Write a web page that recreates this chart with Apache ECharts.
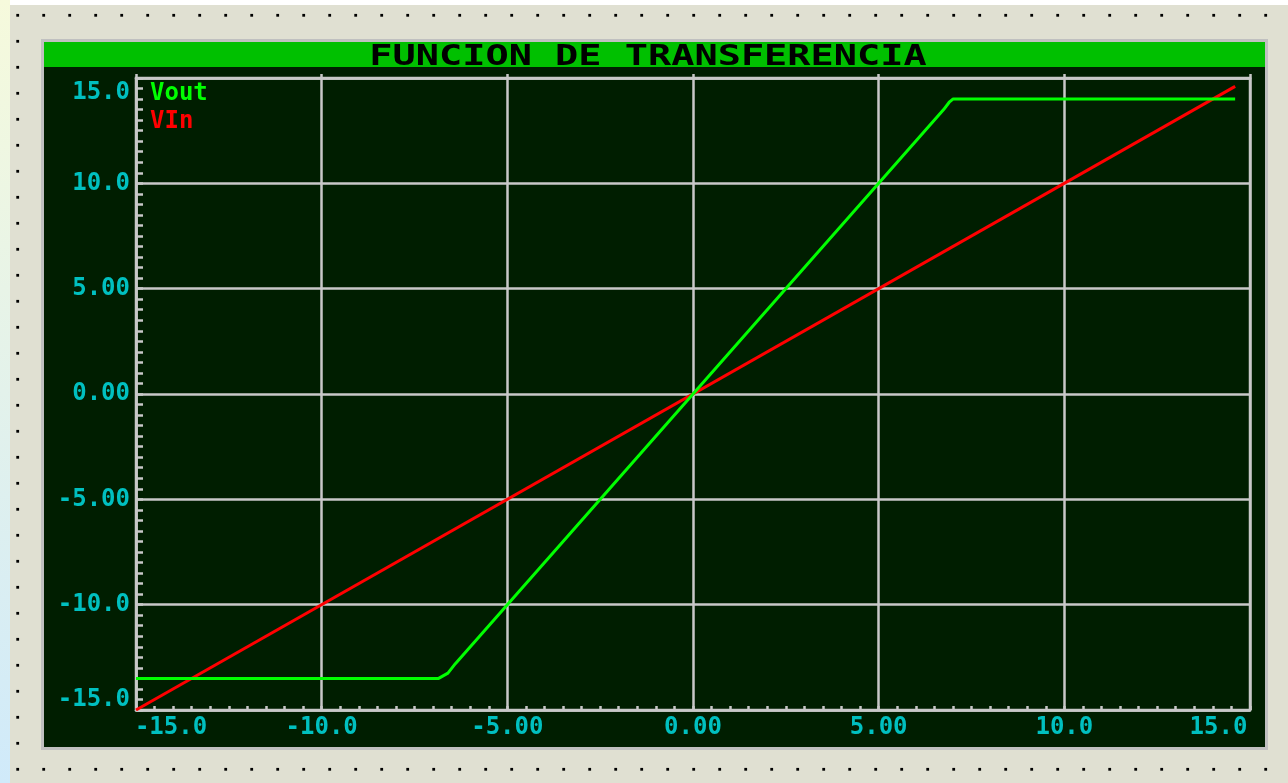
<!DOCTYPE html>
<html>
<head>
<meta charset="utf-8">
<script src="https://cdn.jsdelivr.net/npm/echarts@6/dist/echarts.min.js"></script>
<style>html,body{margin:0;padding:0;background:#E0E0D2;}#c{width:1288px;height:783px;}</style>
</head>
<body>
<div id="c"></div>
<script>
// ---- data ----
var TITLE = 'FUNCION DE TRANSFERENCIA';
var SERIES_NAMES = ['Vout', 'VIn'];
var VIN_X = [-15, 14.6];
var VIN_Y = [-15, 14.6];
var VOUT_X = [-15, -6.85, -6.6, -6.4, 0, 6.75, 6.9, 7.0, 14.6];
var VOUT_Y = [-13.5, -13.5, -13.25, -12.8, 0, 13.5, 13.85, 14.0, 14.0];
var TICK_VALUES = [-15, -10, -5, 0, 5, 10, 15];
var X_LABELS = ['-15.0', '-10.0', '-5.00', '0.00', '5.00', '10.0', '15.0'];
var Y_LABELS = ['-15.0', '-10.0', '-5.00', '0.00', '5.00', '10.0', '15.0'];

// ---- styles ----
var GRAY = '#C8C8C8';
var CYAN = '#00C0C0';
var FONT = 'DejaVu Sans Mono';
var PANEL = {x: 41, y: 39, w: 1227, h: 711};

function pairs(xs, ys) { return xs.map(function (x, i) { return [x, ys[i]]; }); }
function lab(list, v) { var i = TICK_VALUES.indexOf(v); return i < 0 ? '' : list[i]; }

var base = {color: CYAN, fontFamily: FONT, fontWeight: 'bold', fontSize: 24};
function rs(extra) { return Object.assign({}, base, extra || {}); }

var graphics = [];
graphics.push({type: 'rect', z: -20, silent: true, shape: {x: 0, y: 0, width: 1288, height: 783}, style: {fill: '#E0E0D2'}});
graphics.push({type: 'rect', z: -19, silent: true, shape: {x: 0, y: 0, width: 1288, height: 5}, style: {fill: '#FFFFFF'}});
graphics.push({type: 'rect', z: -19, silent: true, shape: {x: 0, y: 0, width: 10, height: 783},
  style: {fill: new echarts.graphic.LinearGradient(0, 0, 0, 1, [{offset: 0, color: '#F6FADC'}, {offset: 1, color: '#D0EAFA'}])}});
for (var j = 0; j < 31; j++) {
  for (var k = 0; k < 50; k++) {
    var dx = 17.7 + 26 * k, dy = 15.3 + 26 * j;
    if (dx > 1285 || dy > 780) continue;
    if (dx > PANEL.x - 2 && dx < PANEL.x + PANEL.w + 2 && dy > PANEL.y - 2 && dy < PANEL.y + PANEL.h + 2) continue;
    graphics.push({type: 'rect', z: -18, silent: true, shape: {x: dx - 1.4, y: dy - 1.4, width: 2.8, height: 2.8}, style: {fill: '#000'}});
  }
}
graphics.push({type: 'rect', z: -17, silent: true, shape: {x: PANEL.x, y: PANEL.y, width: PANEL.w, height: PANEL.h}, style: {fill: '#C0C0C0'}});
graphics.push({type: 'rect', z: -16, silent: true, shape: {x: PANEL.x + 3, y: PANEL.y + 3, width: PANEL.w - 6, height: PANEL.h - 6}, style: {fill: '#001E00'}});
graphics.push({type: 'rect', z: -15, silent: true, shape: {x: PANEL.x + 3, y: 42, width: PANEL.w - 6, height: 25}, style: {fill: '#00C000'}});
graphics.push({type: 'text', z: 10, silent: true, x: 648, y: 57, scaleX: 1.33, scaleY: 1, originX: 0, originY: 0,
  style: {text: TITLE, fill: '#000', font: 'bold 29px "DejaVu Sans Mono"', textAlign: 'center', textVerticalAlign: 'middle'}});

var chart = echarts.init(document.getElementById('c'));
chart.setOption({
  animation: false,
  graphic: {elements: graphics},
  grid: {left: 136, right: 38, top: 78, bottom: 73, show: true, borderColor: GRAY, borderWidth: 2.5, backgroundColor: 'transparent'},
  legend: {
    orient: 'vertical', left: 138, top: 77, itemGap: 4, itemWidth: 1, itemHeight: 1,
    itemStyle: {opacity: 0}, lineStyle: {opacity: 0}, selectedMode: false,
    textStyle: {fontFamily: FONT, fontWeight: 'bold', fontSize: 24},
    data: [{name: SERIES_NAMES[0], textStyle: {color: '#00FF00'}}, {name: SERIES_NAMES[1], textStyle: {color: '#FF0000'}}]
  },
  xAxis: [{
    type: 'value', min: -15, max: 15, interval: 5, position: 'bottom',
    axisLine: {onZero: false, lineStyle: {color: GRAY, width: 2.5}},
    axisTick: {show: true, inside: true, length: 4, lineStyle: {color: GRAY, width: 2.5}},
    minorTick: {show: true, splitNumber: 10, length: 4, lineStyle: {color: GRAY, width: 2.5}},
    splitLine: {show: true, lineStyle: {color: GRAY, width: 2.5}},
    axisLabel: {
      margin: 6, color: CYAN, fontFamily: FONT, fontWeight: 'bold', fontSize: 24, showMinLabel: true, showMaxLabel: true,
      formatter: function (v) {
        if (v === -15) return '{l|' + lab(X_LABELS, v) + '}';
        if (v === 15) return '{r|' + lab(X_LABELS, v) + '}';
        return '{n|' + lab(X_LABELS, v) + '}';
      },
      rich: {n: rs(), l: rs({padding: [0, 0, 0, 70]}), r: rs({padding: [0, 63, 0, 0]})}
    }
  }, {
    type: 'value', min: -15, max: 15, interval: 5, position: 'top',
    axisLine: {show: true, onZero: false, lineStyle: {color: GRAY, width: 2.5}},
    axisTick: {show: true, inside: false, length: 4, lineStyle: {color: GRAY, width: 2.5}},
    axisLabel: {show: false}, splitLine: {show: false}
  }],
  yAxis: {
    type: 'value', min: -15, max: 15, interval: 5,
    axisLine: {show: true, onZero: false, lineStyle: {color: GRAY, width: 2.5}},
    axisTick: {show: true, inside: true, length: 7, lineStyle: {color: GRAY, width: 2.5}},
    minorTick: {show: true, splitNumber: 10, length: 7, lineStyle: {color: GRAY, width: 2.5}},
    splitLine: {show: true, lineStyle: {color: GRAY, width: 2.5}},
    axisLabel: {
      margin: 6, color: CYAN, fontFamily: FONT, fontWeight: 'bold', fontSize: 24, showMinLabel: true, showMaxLabel: true,
      formatter: function (v) {
        if (v === 15) return '{t|' + lab(Y_LABELS, v) + '}';
        if (v === -15) return '{b|' + lab(Y_LABELS, v) + '}';
        return '{n|' + lab(Y_LABELS, v) + '}';
      },
      rich: {n: rs(), t: rs({padding: [30, 0, 0, 0]}), b: rs({padding: [0, 0, 21, 0]})}
    }
  },
  series: [
    {name: SERIES_NAMES[0], type: 'line', xAxisIndex: 0, showSymbol: false, symbol: 'none', data: pairs(VOUT_X, VOUT_Y),
      lineStyle: {color: '#00FF00', width: 3}, itemStyle: {color: '#00FF00'}, z: 4},
    {name: SERIES_NAMES[1], type: 'line', xAxisIndex: 0, showSymbol: false, symbol: 'none', data: pairs(VIN_X, VIN_Y),
      lineStyle: {color: '#FF0000', width: 3}, itemStyle: {color: '#FF0000'}, z: 3}
  ]
});
</script>
</body>
</html>
